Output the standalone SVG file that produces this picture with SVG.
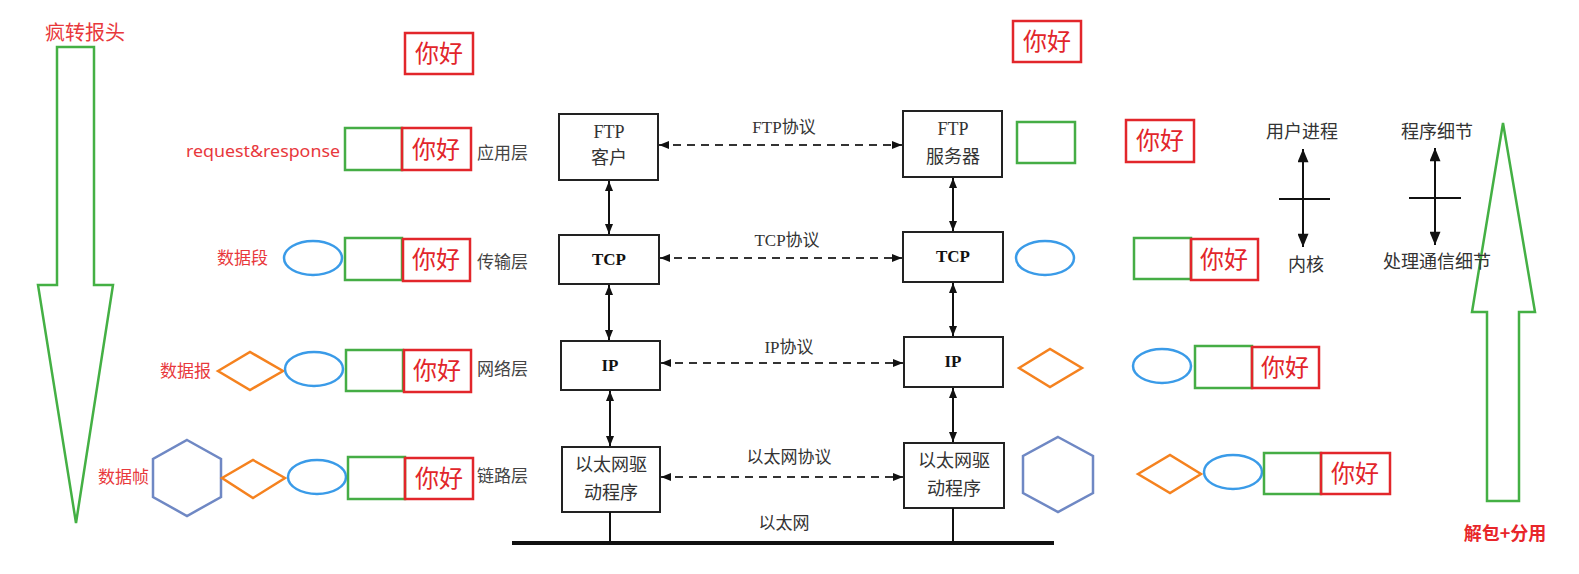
<svg xmlns="http://www.w3.org/2000/svg" width="1579" height="574" viewBox="0 0 1579 574">
<defs>
<style>
.red{fill:none;stroke:#e2262b;stroke-width:2.5}
.grn{fill:none;stroke:#45ad45;stroke-width:2.5}
.blu{fill:none;stroke:#3a9be8;stroke-width:2.5}
.org{fill:none;stroke:#f5821f;stroke-width:2.5}
.hex{fill:none;stroke:#6f88c4;stroke-width:2.5}
.bigarrow{fill:none;stroke:#44b044;stroke-width:2.5}
.ni{font-family:'Noto Sans CJK SC','Noto Sans',sans-serif;font-size:24px;fill:#e2262b;text-anchor:middle}
.rl{font-family:'Noto Sans','Noto Sans CJK SC',sans-serif;font-size:17px;fill:#e8383c}
.lay{font-family:'Liberation Serif','Noto Sans CJK SC',serif;font-size:17px;fill:#444}
.box{fill:#fff;stroke:#222;stroke-width:2}
.bt{font-family:'Liberation Serif','Noto Sans CJK SC',serif;font-size:18px;fill:#333;text-anchor:middle}
.bb{font-family:'Liberation Serif','Noto Sans CJK SC',serif;font-size:17px;font-weight:bold;fill:#111;text-anchor:middle}
.pl{font-family:'Liberation Serif','Noto Sans CJK SC',serif;font-size:17px;fill:#333;text-anchor:middle}
.sol{stroke:#111;stroke-width:2;fill:none}
.dash{stroke:#333;stroke-width:2;stroke-dasharray:8 6;fill:none}
</style>
<marker id="ah" viewBox="0 0 10 8" markerWidth="11" markerHeight="8" refX="10" refY="4" orient="auto-start-reverse" markerUnits="userSpaceOnUse">
<path d="M0,0 L10,4 L0,8 z" fill="#111"/>
</marker>
<marker id="ahL" viewBox="0 0 12 10" markerWidth="14" markerHeight="11" refX="12" refY="5" orient="auto-start-reverse" markerUnits="userSpaceOnUse">
<path d="M0,0 L12,5 L0,10 z" fill="#111"/>
</marker>
</defs>
<rect width="1579" height="574" fill="#fff"/>

<!-- left big arrow -->
<g id="encap-arrow">
<polygon class="bigarrow" points="57,47 94,47 94,285 113,285 76,523 38,285 57,285"/>
<text x="85" y="40" class="rl" style="font-size:20px;text-anchor:middle;font-family:'Noto Sans CJK SC',sans-serif">疯转报头</text>
</g>

<!-- right big arrow -->
<g id="decap-arrow">
<polygon class="bigarrow" points="1503,123 1535,312 1519,312 1519,501 1487,501 1487,312 1472,312"/>
<text x="1505" y="540" style="font-family:'Noto Sans CJK SC',sans-serif;font-size:18px;font-weight:bold;fill:#e8262a;text-anchor:middle">解包+分用</text>
</g>

<!-- left packet stack -->
<g id="left-data">
<rect class="red" x="405" y="33" width="68" height="41"/>
<text class="ni" x="439" y="62">你好</text>
</g>
<g id="left-app">
<text class="rl" x="186" y="157" textLength="154" lengthAdjust="spacingAndGlyphs" style="font-size:17px">request&amp;response</text>
<rect class="grn" x="345" y="128" width="57" height="42"/>
<rect class="red" x="402" y="128" width="69" height="42"/>
<text class="ni" x="436" y="158">你好</text>
</g>
<g id="left-transport">
<text class="rl" x="217" y="264" style="font-family:'Noto Sans CJK SC',sans-serif">数据段</text>
<ellipse class="blu" cx="313" cy="258" rx="29" ry="17"/>
<rect class="grn" x="345" y="238" width="57" height="42"/>
<rect class="red" x="403" y="239" width="67" height="42"/>
<text class="ni" x="436" y="268">你好</text>
</g>
<g id="left-network">
<text class="rl" x="160" y="377" style="font-family:'Noto Sans CJK SC',sans-serif">数据报</text>
<polygon class="org" points="218,371 250,352 283,371 250,390"/>
<ellipse class="blu" cx="314" cy="369" rx="29" ry="17"/>
<rect class="grn" x="346" y="350" width="57" height="41"/>
<rect class="red" x="404" y="350" width="67" height="42"/>
<text class="ni" x="437" y="379">你好</text>
</g>
<g id="left-link">
<text class="rl" x="98" y="483" style="font-family:'Noto Sans CJK SC',sans-serif">数据帧</text>
<polygon class="hex" points="187,440 221,459 221,497 187,516 153,497 153,459"/>
<polygon class="org" points="222,478 253,460 285,478 253,498"/>
<ellipse class="blu" cx="317" cy="477" rx="29" ry="17"/>
<rect class="grn" x="348" y="457" width="57" height="42"/>
<rect class="red" x="405" y="458" width="68" height="41"/>
<text class="ni" x="439" y="487">你好</text>
</g>

<!-- layer labels -->
<g id="layer-labels">
<text class="lay" x="477" y="159">应用层</text>
<text class="lay" x="477" y="268">传输层</text>
<text class="lay" x="477" y="375">网络层</text>
<text class="lay" x="477" y="482">链路层</text>
</g>

<!-- center boxes -->
<g id="ftp-client">
<rect class="box" x="559" y="114" width="99" height="66"/>
<text class="bt" x="609" y="138">FTP</text>
<text class="bt" x="609" y="164">客户</text>
</g>
<g id="tcp-left">
<rect class="box" x="559" y="235" width="100" height="49"/>
<text class="bb" x="609" y="265">TCP</text>
</g>
<g id="ip-left">
<rect class="box" x="561" y="341" width="99" height="49"/>
<text class="bb" x="610" y="371">IP</text>
</g>
<g id="eth-left">
<rect class="box" x="562" y="447" width="98" height="65"/>
<text class="bt" x="611" y="471">以太网驱</text>
<text class="bt" x="611" y="499">动程序</text>
</g>
<g id="ftp-server">
<rect class="box" x="903" y="111" width="99" height="66"/>
<text class="bt" x="953" y="135">FTP</text>
<text class="bt" x="953" y="163">服务器</text>
</g>
<g id="tcp-right">
<rect class="box" x="903" y="232" width="100" height="50"/>
<text class="bb" x="953" y="262">TCP</text>
</g>
<g id="ip-right">
<rect class="box" x="904" y="337" width="99" height="50"/>
<text class="bb" x="953" y="367">IP</text>
</g>
<g id="eth-right">
<rect class="box" x="904" y="443" width="100" height="65"/>
<text class="bt" x="954" y="467">以太网驱</text>
<text class="bt" x="954" y="495">动程序</text>
</g>
<g id="ethernet-bus">
<line x1="512" y1="543" x2="1054" y2="543" stroke="#111" stroke-width="4"/>
<text class="pl" x="784" y="529">以太网</text>
</g>

<!-- connectors -->
<g id="connectors">
<line class="sol" x1="609" y1="181" x2="609" y2="234" marker-start="url(#ah)" marker-end="url(#ah)"/>
<line class="sol" x1="609" y1="285" x2="609" y2="340" marker-start="url(#ah)" marker-end="url(#ah)"/>
<line class="sol" x1="610" y1="391" x2="610" y2="446" marker-start="url(#ah)" marker-end="url(#ah)"/>
<line class="sol" x1="953" y1="178" x2="953" y2="231" marker-start="url(#ah)" marker-end="url(#ah)"/>
<line class="sol" x1="953" y1="283" x2="953" y2="336" marker-start="url(#ah)" marker-end="url(#ah)"/>
<line class="sol" x1="953" y1="388" x2="953" y2="442" marker-start="url(#ah)" marker-end="url(#ah)"/>
<line class="dash" x1="659" y1="145" x2="902" y2="145" marker-start="url(#ah)" marker-end="url(#ah)"/>
<line class="dash" x1="660" y1="258" x2="902" y2="258" marker-start="url(#ah)" marker-end="url(#ah)"/>
<line class="dash" x1="661" y1="363" x2="903" y2="363" marker-start="url(#ah)" marker-end="url(#ah)"/>
<line class="dash" x1="661" y1="477" x2="903" y2="477" marker-start="url(#ah)" marker-end="url(#ah)"/>
<line class="sol" x1="610" y1="512" x2="610" y2="543"/>
<line class="sol" x1="953" y1="508" x2="953" y2="543"/>
<text class="pl" x="784" y="133">FTP协议</text>
<text class="pl" x="787" y="246">TCP协议</text>
<text class="pl" x="789" y="353">IP协议</text>
<text class="pl" x="789" y="463">以太网协议</text>
</g>

<!-- right packet stack -->
<g id="right-data">
<rect class="red" x="1013" y="21" width="68" height="41"/>
<text class="ni" x="1047" y="50">你好</text>
</g>
<g id="right-app">
<rect class="grn" x="1017" y="122" width="58" height="41"/>
<rect class="red" x="1126" y="120" width="68" height="42"/>
<text class="ni" x="1160" y="149">你好</text>
</g>
<g id="right-transport">
<ellipse class="blu" cx="1045" cy="258" rx="29" ry="17"/>
<rect class="grn" x="1134" y="238" width="57" height="41"/>
<rect class="red" x="1191" y="239" width="67" height="41"/>
<text class="ni" x="1224" y="268">你好</text>
</g>
<g id="right-network">
<polygon class="org" points="1019,368 1050,349 1082,368 1050,387"/>
<ellipse class="blu" cx="1162" cy="366" rx="29" ry="17"/>
<rect class="grn" x="1195" y="346" width="57" height="42"/>
<rect class="red" x="1252" y="347" width="67" height="41"/>
<text class="ni" x="1285" y="376">你好</text>
</g>
<g id="right-link">
<polygon class="hex" points="1058,437 1093,456 1093,493 1058,512 1023,493 1023,456"/>
<polygon class="org" points="1138,474 1170,455 1201,474 1170,493"/>
<ellipse class="blu" cx="1233" cy="472" rx="29" ry="17"/>
<rect class="grn" x="1264" y="453" width="57" height="41"/>
<rect class="red" x="1321" y="453" width="69" height="41"/>
<text class="ni" x="1355" y="482">你好</text>
</g>

<!-- legend -->
<g id="legend-user-kernel">
<text class="pl" x="1302" y="138" style="font-size:18px">用户进程</text>
<line class="sol" x1="1303" y1="149" x2="1303" y2="247" marker-start="url(#ahL)" marker-end="url(#ahL)" stroke-width="2.5"/>
<line class="sol" x1="1279" y1="199" x2="1330" y2="199" stroke-width="2.5"/>
<text class="pl" x="1306" y="271" style="font-size:18px">内核</text>
</g>
<g id="legend-detail">
<text class="pl" x="1437" y="138" style="font-size:18px">程序细节</text>
<line class="sol" x1="1435" y1="148" x2="1435" y2="245" marker-start="url(#ahL)" marker-end="url(#ahL)" stroke-width="2.5"/>
<line class="sol" x1="1409" y1="198" x2="1461" y2="198" stroke-width="2.5"/>
<text class="pl" x="1437" y="268" style="font-size:18px">处理通信细节</text>
</g>
</svg>
